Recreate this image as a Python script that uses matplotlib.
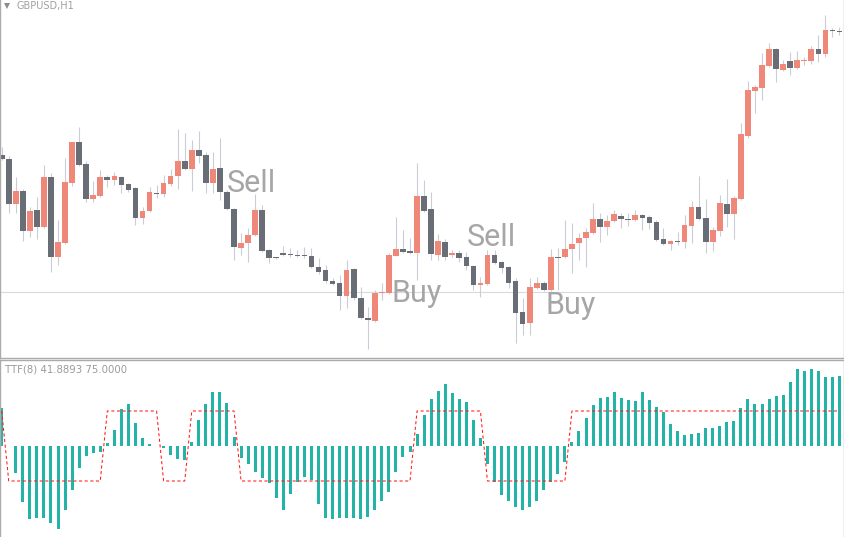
import matplotlib
matplotlib.use('Agg')
import matplotlib.pyplot as plt
import numpy as np
from matplotlib.lines import Line2D

# ---------------- data (price in points, TTF in indicator units) ----------------
opens = [205, 201, 156, 169, 129, 150, 133, 183, 103, 117,
         177, 218, 196, 161, 164, 183, 180, 183, 176, 172,
         142, 149, 167.5, 166, 176, 184, 199, 191, 210, 205,
         177, 192, 168, 151, 112, 117, 125, 150, 110, 102.5,
         106.7, 105.7, 105.5, 105, 104.5, 93, 90, 79, 77, 64,
         91, 62, 42, 39, 67, 67, 104, 111, 109, 107,
         164, 151, 105, 118, 105, 107, 103, 94, 75, 76,
         105, 98, 93, 79, 48, 37, 72, 77, 70, 103,
         103, 111, 117, 122, 127, 141, 133, 139, 144, 141.3,
         140, 145, 143, 138, 121, 116, 119, 118, 134, 153,
         142, 118, 129, 156, 146, 161, 224, 269, 272, 294,
         311, 290, 299, 292, 299, 299, 311, 306, 330, 329.3]
highs = [213, 204, 183, 171, 153, 163, 195, 187, 140, 202,
         218, 233, 199, 179, 190, 185, 188, 184, 177, 173,
         153, 173, 175, 185, 191, 231, 227, 220, 229, 208,
         208, 222, 170, 152, 127, 132, 166, 155, 111, 103,
         114, 112, 110, 113, 112, 102, 95, 82, 85, 100,
         92, 73, 53, 70, 77, 107, 143, 130, 122, 197,
         180, 168, 126, 121, 110, 110, 108, 95, 83, 110,
         110, 99, 94, 82, 62, 82, 83, 79, 111, 112,
         140, 137, 127, 132, 157, 147, 145, 150, 147, 147,
         150, 146, 145, 140, 132, 120, 128, 145, 159, 184,
         161, 133, 165, 181, 164, 237, 279, 275, 307, 317,
         312, 300, 308, 309, 303, 314, 325, 345, 332, 333]
lows = [200, 147, 147, 119, 123, 121, 132, 88, 95, 116,
        174, 194, 158, 158, 163, 173, 175, 167, 168, 135,
        136, 148, 162, 163, 174, 171, 190, 169, 197, 167,
        167, 160, 150, 100, 105, 98, 124, 108, 97, 101,
        104, 103, 103, 102, 92, 86, 77, 75, 50, 52,
        60, 41, 11, 38, 60, 66, 104, 107, 106, 80,
        148, 100, 100, 100, 103, 98, 90, 70, 63, 75,
        96, 87, 72, 17, 25, 25, 71, 69, 69, 70,
        102, 87, 100, 93, 126, 118, 125, 138, 132, 134,
        139, 130, 131, 119, 115, 110, 115, 112, 117, 140,
        107, 109, 124, 133, 121, 160, 222, 247, 260, 293,
        278, 289, 285, 291, 295, 296, 298, 303, 323, 325]
closes = [201, 156, 169, 129, 149, 133, 183, 103, 118, 178,
          218, 195, 161, 165, 183, 180, 184, 175, 170, 142,
          149, 168, 166.5, 177, 184, 199, 191, 210, 204, 177,
          191, 168, 151, 113, 117, 125, 150, 109, 102, 101.7,
          105.5, 104.7, 104.5, 104, 93, 88, 79, 76, 64, 90,
          62, 42, 40, 67, 68, 105, 111, 108, 107, 164,
          149, 106, 119, 103, 107, 102, 94, 75, 77, 105,
          97, 92, 77, 47, 36, 73, 77, 70, 103, 102,
          111, 116, 122, 128, 141, 133, 139, 146, 141, 139.7,
          145, 142, 137, 120, 116, 119, 118, 135, 153, 141,
          118, 130, 157, 146, 162, 226, 270, 273, 295, 311,
          291, 296, 292, 300, 300, 311, 306, 330, 329, 328.3]
level_price = 67.7

ttf = [81, 1, -58, -120, -156, -154, -154, -165, -178, -137,
       -94, -47, -21, -15, -13, 6, 34, 79, 90, 49,
       17, 4, 1, -4, -19, -28, -30, 9, 56, 90,
       116, 116, 92, 19, -26, -39, -56, -69, -79, -111,
       -137, -103, -77, -66, -73, -124, -154, -156, -154, -154,
       -154, -156, -152, -137, -118, -99, -56, -24, -13, 26,
       66, 101, 118, 133, 114, 101, 94, 56, 17, -39,
       -77, -105, -118, -131, -137, -131, -118, -94, -77, -60,
       -34, 9, 32, 60, 88, 103, 105, 116, 103, 99,
       96, 116, 99, 84, 73, 47, 32, 24, 26, 28,
       39, 39, 43, 51, 54, 81, 101, 90, 90, 101,
       107, 109, 137, 165, 161, 165, 161, 148, 148, 150]
signal = [75, -75, -75, -75, -75, -75, -75, -75, -75, -75,
          -75, -75, -75, -75, -75, 75, 75, 75, 75, 75,
          75, 75, 75, -75, -75, -75, -75, 75, 75, 75,
          75, 75, 75, 75, -75, -75, -75, -75, -75, -75,
          -75, -75, -75, -75, -75, -75, -75, -75, -75, -75,
          -75, -75, -75, -75, -75, -75, -75, -75, -75, 75,
          75, 75, 75, 75, 75, 75, 75, 75, 75, -75,
          -75, -75, -75, -75, -75, -75, -75, -75, -75, -75,
          -75, 75, 75, 75, 75, 75, 75, 75, 75, 75,
          75, 75, 75, 75, 75, 75, 75, 75, 75, 75,
          75, 75, 75, 75, 75, 75, 75, 75, 75, 75,
          75, 75, 75, 75, 75, 75, 75, 75, 75, 75]

signal_labels = ["Sell", "Buy", "Sell", "Buy"]
label_bars = [32.0, 55.3, 66.0, 77.25]
label_prices = [167.5, 58.5, 114.5, 46.0]

symbol_text = "GBPUSD,H1"
indicator_text = "TTF(8) 41.8893 75.0000"

# ---------------- styling ----------------
BULL = '#ef8878'
BEAR = '#686d76'
WICK = '#caccd7'
HIST = '#24b3a7'
FRAME = '#ababab'
LABEL = '#a6a6a6'

W, H = 845, 537
fig = plt.figure(figsize=(W / 100, H / 100), dpi=100)
fig.patch.set_facecolor('white')

sep1, sep2 = 357.5, 359.5
axw = 844.5 / W
ax = fig.add_axes([0, (H - sep1) / H, axw, sep1 / H])
ax2 = fig.add_axes([0, 0, axw, (H - sep2) / H])

o = np.array(opens, float)
c = np.array(closes, float)
hi = np.array(highs, float)
lo = np.array(lows, float)
x = np.arange(len(o))
bull = c >= o
colors = np.where(bull, BULL, BEAR)
bottom = np.minimum(o, c)
height = np.maximum(np.abs(c - o), 1.0)

ax.axhline(level_price, color='#dadada', lw=0.8, zorder=0)
ax.vlines(x, lo, hi, color=WICK, lw=0.8, zorder=1)
ax.bar(x, height, bottom=bottom, width=0.8, color=colors, linewidth=0, zorder=2)

for t, bx, py in zip(signal_labels, label_bars, label_prices):
    ax.text(bx, py, t, fontsize=22, family='Roboto', color=LABEL,
            ha='left', va='baseline', zorder=3)

xl = (-1.7 / 7.04, (844.5 - 1.7) / 7.04)
ax.set_xlim(*xl)
ax.set_ylim(360 - sep1, 360)

ax2.bar(x, ttf, width=0.43, color=HIST, linewidth=0, zorder=2)
ax2.plot(x, signal, color='#ff1a1a', lw=0.75, dashes=(3.0, 2.4), zorder=3)
k = 75 / 35.0
ax2.set_xlim(*xl)
ax2.set_ylim((446 - 537) * k, (446 - sep2) * k)

for a in (ax, ax2):
    a.set_xticks([])
    a.set_yticks([])
    a.set_facecolor('white')
    for s in a.spines.values():
        s.set_color(FRAME)
        s.set_linewidth(1.0)
ax.spines['top'].set_visible(False)
ax2.spines['bottom'].set_visible(False)

fig.text(17 / W, 1 - 6.5 / H, symbol_text, fontsize=7, color='#a0a0a0',
         ha='left', va='center', family='DejaVu Sans')
fig.add_artist(Line2D([7.5 / W], [1 - 6 / H], marker='v', ms=4.5, color='#8c8c8c',
                      markeredgewidth=0, transform=fig.transFigure))
fig.text(5 / W, 1 - 369 / H, indicator_text, fontsize=7.3, color='#9a9a9a',
         ha='left', va='center', family='DejaVu Sans')

fig.savefig('out.png', dpi=100, facecolor='white')
